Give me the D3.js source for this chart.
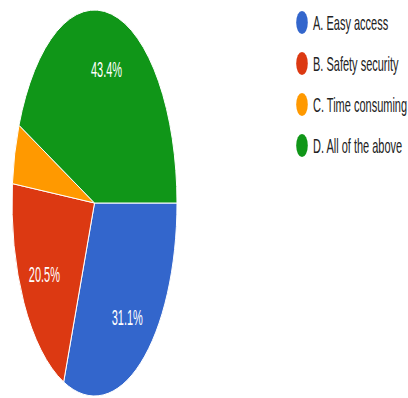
<!DOCTYPE html>
<html>
<head>
<meta charset="utf-8">
<script src="https://cdn.jsdelivr.net/npm/d3@7"></script>
<style>
  html, body { margin: 0; padding: 0; background: #fff; }
  svg { display: block; }
</style>
</head>
<body>
<svg id="chart" width="408" height="398"></svg>
<script>
// Survey answers and their share of responses (percent)
const categories = ["A. Easy access", "B. Safety security", "C. Time consuming", "D. All of the above"];
const values = [31.1, 20.5, 5.0, 43.4];
const colors = ["#3366cc", "#dc3912", "#ff9900", "#109618"];

const svg = d3.select("#chart");
const W = 408, H = 398;

// Pie geometry: drawn as a circle, then stretched vertically into an ellipse
const R = 82.5;
const cx = 94.5, cy = 203;
const stretch = 193 / R;

const pie = d3.pie()
  .sort(null)
  .value(d => d)
  .startAngle(Math.PI / 2)
  .endAngle(Math.PI / 2 + 2 * Math.PI);

const arcs = pie(values);
const arc = d3.arc().innerRadius(0).outerRadius(R);
const labelArc = d3.arc().innerRadius(R * 0.71).outerRadius(R * 0.71);

const g = svg.append("g")
  .attr("transform", `translate(${cx},${cy}) scale(1,${stretch})`);

g.selectAll("path.slice")
  .data(arcs)
  .join("path")
  .attr("class", "slice")
  .attr("d", arc)
  .attr("fill", (d, i) => colors[i])
  .attr("stroke", "#fff")
  .attr("stroke-width", 1)
  .attr("vector-effect", "non-scaling-stroke");

// Percentage labels (small slices are left unlabeled)
const pct = d3.format(".1f");
svg.append("g")
  .selectAll("text")
  .data(arcs.filter(d => d.data >= 10))
  .join("text")
  .attr("transform", d => {
    const [x, y] = labelArc.centroid(d);
    return `translate(${cx + x},${cy + y * stretch}) scale(1,2.05)`;
  })
  .attr("text-anchor", "middle")
  .attr("dy", "0.36em")
  .attr("font-family", "Arial, 'Liberation Sans', sans-serif")
  .attr("font-size", 11)
  .attr("fill", "#fff")
  .text(d => pct(d.data) + "%");

// Legend
const legendY = d3.scalePoint()
  .domain(categories)
  .range([22.5, 145.5]);

const legend = svg.append("g");
const item = legend.selectAll("g")
  .data(categories)
  .join("g")
  .attr("transform", d => `translate(302,${legendY(d)})`);

item.append("ellipse")
  .attr("rx", 5.8)
  .attr("ry", 11.5)
  .attr("fill", (d, i) => colors[i]);

item.append("text")
  .attr("transform", "translate(11,0) scale(1,1.85)")
  .attr("dy", "0.36em")
  .attr("font-family", "Arial, 'Liberation Sans', sans-serif")
  .attr("font-size", 11)
  .attr("fill", "#222")
  .text(d => d);
</script>
</body>
</html>
